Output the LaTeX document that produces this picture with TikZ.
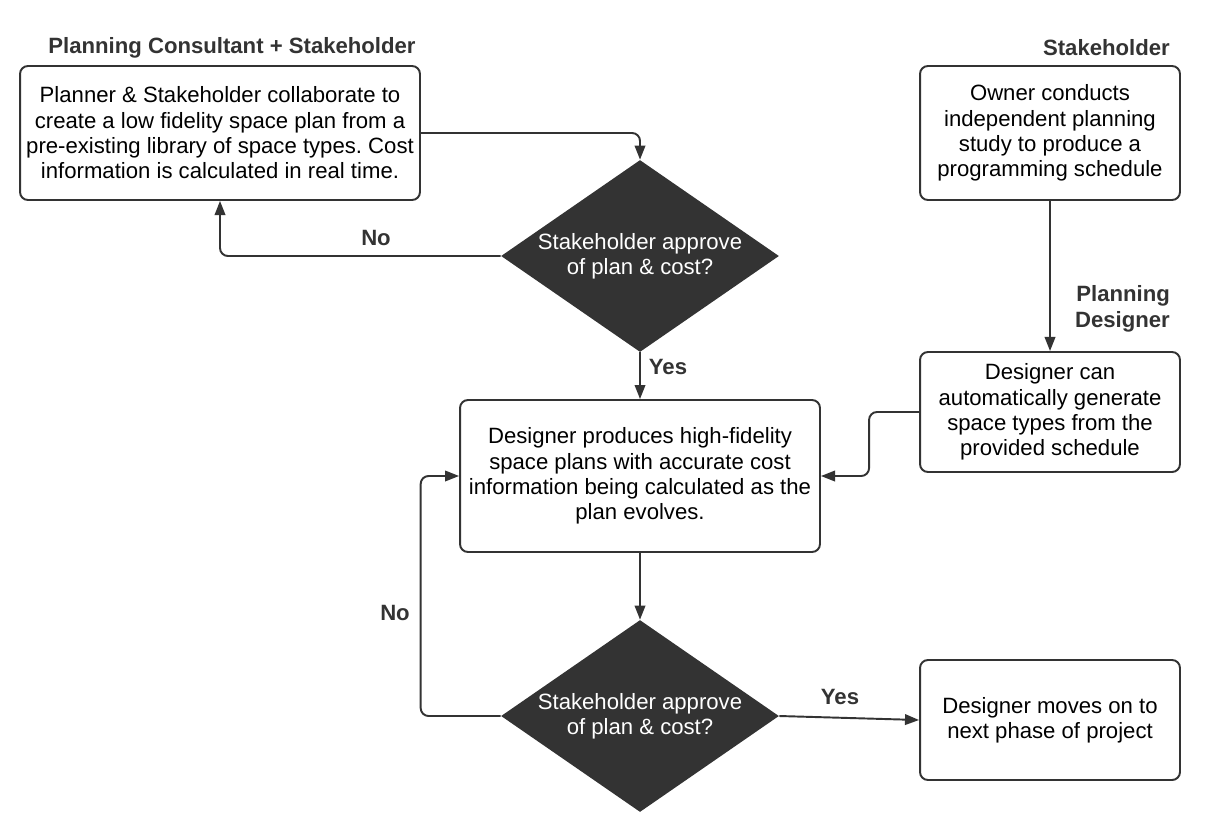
\documentclass[tikz,border=0pt]{standalone}
\usepackage{fontspec}
\setmainfont{Liberation Sans}
\usetikzlibrary{shapes.geometric,arrows.meta}
\definecolor{ink}{HTML}{333333}
\begin{document}
\begin{tikzpicture}[x=0.02cm, y=-0.02cm,
	stepbox/.style={draw=ink, line width=1.1pt, rounded corners=4.5pt, align=center, inner sep=0pt, font=\fontsize{12.6}{14.4}\selectfont},
	decision/.style={diamond, fill=ink, text=white, align=center, inner sep=-2pt, aspect=1.448, minimum width=5.56cm, minimum height=3.84cm, font=\fontsize{12.6}{14.4}\selectfont},
	lane/.style={text=ink, font=\bfseries\fontsize{12.6}{14.8}\selectfont},
	answer/.style={text=ink, font=\bfseries\fontsize{12.6}{14}\selectfont},
	flow/.style={draw=ink, line width=1.1pt, rounded corners=4.5pt, -{Triangle[length=8pt, width=6pt]}}]
	\useasboundingbox (0,0) rectangle (1212,832);
	
	\node[lane] (lane1) at (232,48) {Planning Consultant + Stakeholder};
	\node[lane, anchor=east] (lane2) at (1176,48) {Stakeholder};
	\node[lane, anchor=east, align=right] (lane3) at (1176,309) {Planning\\Designer};
	
	\node[stepbox, minimum width=8cm, minimum height=2.68cm] (plan) at (220,133) {Planner \& Stakeholder collaborate to\\create a low fidelity space plan from a\\pre-existing library of space types.\ Cost\\information is calculated in real time.};
	\node[stepbox, minimum width=5.2cm, minimum height=2.68cm] (owner) at (1050,133) {Owner conducts\\independent planning\\study to produce a\\programming schedule};
	\node[decision] (check1) at (640,256) {Stakeholder approve\\of plan \& cost?};
	\node[stepbox, minimum width=5.2cm, minimum height=2.4cm] (generate) at (1050,412) {Designer can\\automatically generate\\space types from the\\provided schedule};
	\node[stepbox, minimum width=7.2cm, minimum height=3.04cm] (design) at (640,476) {Designer produces high-fidelity\\space plans with accurate cost\\information being calculated as the\\plan evolves.};
	\node[decision] (check2) at (640,716) {Stakeholder approve\\of plan \& cost?};
	\node[stepbox, minimum width=5.2cm, minimum height=2.4cm] (next) at (1050,720) {Designer moves on to\\next phase of project};
	
	\draw[flow] (plan.east) -| (check1.north);
	\draw[flow] (check1.west) -| (plan.south);
	\draw[flow] (check1.south) -- (design.north);
	\draw[flow] (owner.south) -- (generate.north);
	\draw[flow] (generate.west) -- ++(-50,0) |- (design.east);
	\draw[flow] (design.south) -- (check2.north);
	\draw[flow] (check2.west) -- ++(-80,0) |- (design.west);
	\draw[flow] (check2.east) -- (next.west);
	
	\node[answer] (no1) at (376,238) {No};
	\node[answer] (yes1) at (668,367) {Yes};
	\node[answer] (no2) at (395,613) {No};
	\node[answer] (yes2) at (840,697) {Yes};
\end{tikzpicture}
\end{document}
